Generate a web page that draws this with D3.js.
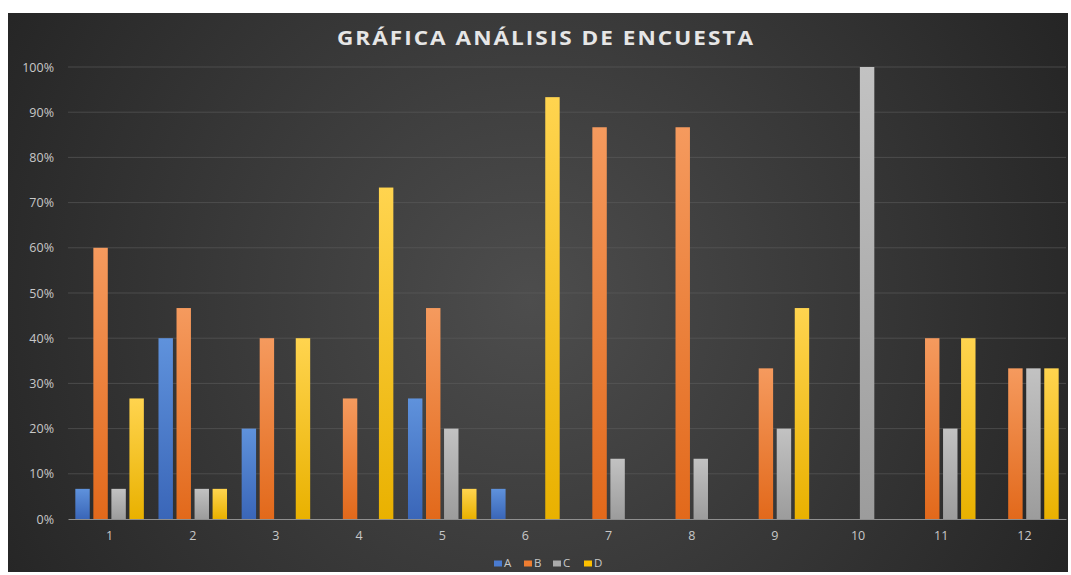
<!DOCTYPE html>
<html>
<head>
<meta charset="utf-8">
<script src="https://cdn.jsdelivr.net/npm/d3@7"></script>
<style>
  html, body { margin: 0; padding: 0; background: #ffffff; }
  svg { display: block; }
</style>
</head>
<body>
<svg id="chart" width="1071" height="575"></svg>
<script>
const categories = ["1","2","3","4","5","6","7","8","9","10","11","12"];
const seriesNames = ["A","B","C","D"];
const seriesA = [0.0667, 0.40, 0.20, 0, 0.2667, 0.0667, 0, 0, 0, 0, 0, 0];
const seriesB = [0.60, 0.4667, 0.40, 0.2667, 0.4667, 0, 0.8667, 0.8667, 0.3333, 0, 0.40, 0.3333];
const seriesC = [0.0667, 0.0667, 0, 0, 0.20, 0, 0.1333, 0.1333, 0.20, 1.00, 0.20, 0.3333];
const seriesD = [0.2667, 0.0667, 0.40, 0.7333, 0.0667, 0.9333, 0, 0, 0.4667, 0, 0.40, 0.3333];
const yTicks = [0, 0.1, 0.2, 0.3, 0.4, 0.5, 0.6, 0.7, 0.8, 0.9, 1.0];
const title = "GRÁFICA ANÁLISIS DE ENCUESTA";

const seriesValues = [seriesA, seriesB, seriesC, seriesD];
const colors = {
  A: ["#5f92dc", "#3a66b8"],
  B: ["#f59a5e", "#e2691b"],
  C: ["#c2c2c2", "#9c9c9c"],
  D: ["#ffd44f", "#e9b100"]
};
const legendColors = { A: "#4a7bd0", B: "#ee7d31", C: "#aaaaaa", D: "#fdc000" };

const svg = d3.select("#chart");
const defs = svg.append("defs");

const bg = defs.append("radialGradient").attr("id", "bg")
  .attr("gradientUnits", "userSpaceOnUse")
  .attr("cx", 530).attr("cy", 300).attr("r", 620);
bg.append("stop").attr("offset", "0%").attr("stop-color", "#4d4d4d");
bg.append("stop").attr("offset", "100%").attr("stop-color", "#242424");

seriesNames.forEach(s => {
  const g = defs.append("linearGradient").attr("id", "grad" + s)
    .attr("x1", 0).attr("y1", 0).attr("x2", 0).attr("y2", 1);
  g.append("stop").attr("offset", "0%").attr("stop-color", colors[s][0]);
  g.append("stop").attr("offset", "100%").attr("stop-color", colors[s][1]);
});

// Chart background
svg.append("rect").attr("x", 8).attr("y", 13).attr("width", 1060).attr("height", 559)
  .attr("fill", "url(#bg)");

const plot = { left: 68, right: 1066, top: 67, bottom: 519 };

const y = d3.scaleLinear().domain([0, 1]).range([plot.bottom, plot.top]);
const x0 = d3.scaleBand().domain(categories).range([plot.left, plot.right]).padding(0);
const outer = x0.bandwidth() * 0.088;
const x1 = d3.scaleBand().domain(seriesNames)
  .range([outer, x0.bandwidth() - outer]).paddingInner(0.2).paddingOuter(0);

// Gridlines
svg.append("g").selectAll("line").data(yTicks.filter(t => t > 0)).join("line")
  .attr("x1", plot.left).attr("x2", plot.right)
  .attr("y1", d => y(d)).attr("y2", d => y(d))
  .attr("stroke", "#5e5e5e").attr("stroke-opacity", 0.6).attr("stroke-width", 1);

// Y axis labels
const yAxis = d3.axisLeft(y).tickValues(yTicks).tickFormat(d3.format(".0%")).tickSize(0).tickPadding(0);
const yg = svg.append("g").attr("transform", `translate(${54},0)`).call(yAxis);
yg.select(".domain").remove();
yg.selectAll("text").attr("fill", "#c8c8c8").attr("font-family", "Open Sans, sans-serif")
  .attr("font-size", 12.5);

// Bars
const groups = svg.append("g").selectAll("g").data(categories).join("g")
  .attr("transform", d => `translate(${x0(d)},0)`);
groups.selectAll("rect")
  .data((c, i) => seriesNames.map((s, j) => ({ s, v: seriesValues[j][i] })))
  .join("rect")
  .attr("x", d => x1(d.s))
  .attr("width", x1.bandwidth())
  .attr("y", d => y(d.v))
  .attr("height", d => y(0) - y(d.v))
  .attr("fill", d => `url(#grad${d.s})`);

// X axis
const xAxis = d3.axisBottom(x0).tickSize(0).tickPadding(0);
const xg = svg.append("g").attr("transform", `translate(0,${plot.bottom})`).call(xAxis);
xg.select(".domain").attr("stroke", "#8f8f8f").attr("stroke-width", 1.2);
xg.selectAll("text").attr("fill", "#c8c8c8").attr("font-family", "Open Sans, sans-serif")
  .attr("font-size", 12.5).attr("dy", null).attr("y", 21);

// Title
svg.append("text").attr("x", 546).attr("y", 45).attr("text-anchor", "middle")
  .attr("fill", "#e6e6e6").attr("font-family", "Open Sans, sans-serif")
  .attr("font-weight", 700).attr("font-size", 20).attr("letter-spacing", "1.8px")
  .attr("textLength", 418).attr("lengthAdjust", "spacingAndGlyphs")
  .text(title);

// Legend
const legendX = [494, 524, 553, 584];
const lg = svg.append("g").selectAll("g").data(seriesNames).join("g")
  .attr("transform", (d, i) => `translate(${legendX[i]},${560.5})`);
lg.append("rect").attr("width", 8).attr("height", 6).attr("fill", d => legendColors[d]);
lg.append("text").attr("x", 10).attr("y", 6.5).attr("fill", "#c8c8c8")
  .attr("font-family", "Open Sans, sans-serif").attr("font-size", 11.5).text(d => d);
</script>
</body>
</html>
